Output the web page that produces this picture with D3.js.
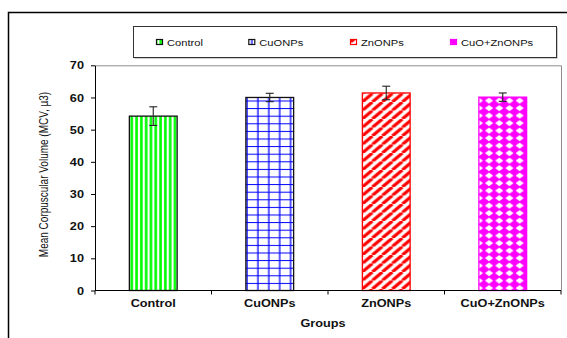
<!DOCTYPE html>
<html>
<head>
<meta charset="utf-8">
<script src="https://cdn.jsdelivr.net/npm/d3@7"></script>
<style>
  html, body { margin: 0; padding: 0; background: #fff; }
  svg { display: block; font-family: "Liberation Sans", Arial, sans-serif; }
</style>
</head>
<body>
<svg id="chart" width="567" height="338"></svg>
<script>
// Mean corpuscular volume per treatment group
const categories = ["Control", "CuONPs", "ZnONPs", "CuO+ZnONPs"];
const meanValues = [54.2, 60.0, 61.4, 60.1];
const errorValues = [2.9, 1.3, 2.1, 1.3];
const yTicks = [0, 10, 20, 30, 40, 50, 60, 70];
const legendLabels = ["Control", "CuONPs", "ZnONPs", "CuO+ZnONPs"];

const colors = ["#00FF00", "#0000FF", "#FF0000", "#FF00FF"];
const borders = ["#111111", "#111111", "#FF0000", "#FF00FF"];
const SX = 1.27; // horizontal text stretch

const svg = d3.select("#chart");
const plot = { left: 95, right: 561, top: 65.3, bottom: 290.5 };

// ---- fill patterns ----
const defs = svg.append("defs");

function vStripes(id, x0) {
  const p = defs.append("pattern").attr("id", id).attr("patternUnits", "userSpaceOnUse")
    .attr("x", x0).attr("y", 0).attr("width", 4.8).attr("height", 10);
  p.append("rect").attr("width", 4.8).attr("height", 10).attr("fill", "#fff");
  p.append("rect").attr("x", 1.1).attr("width", 2.6).attr("height", 10).attr("fill", colors[0]);
}
function grid(id, x0, y0) {
  const w = 10.9, h = 7.6;
  const p = defs.append("pattern").attr("id", id).attr("patternUnits", "userSpaceOnUse")
    .attr("x", x0).attr("y", y0).attr("width", w).attr("height", h);
  p.append("rect").attr("width", w).attr("height", h).attr("fill", "#fff");
  p.append("rect").attr("x", 0.5).attr("width", 1.3).attr("height", h).attr("fill", colors[1]);
  p.append("rect").attr("y", 0).attr("width", w).attr("height", 1).attr("fill", colors[1]);
}
function diag(id, x0) {
  const w = 10, h = 8.5;
  const p = defs.append("pattern").attr("id", id).attr("patternUnits", "userSpaceOnUse")
    .attr("x", x0).attr("y", 0).attr("width", w).attr("height", h);
  p.append("rect").attr("width", w).attr("height", h).attr("fill", "#fff");
  const g = p.append("g").attr("stroke", colors[2]).attr("stroke-width", 3.2);
  g.append("line").attr("x1", 0).attr("y1", h).attr("x2", w).attr("y2", 0);
  g.append("line").attr("x1", -w).attr("y1", h).attr("x2", 0).attr("y2", 0);
  g.append("line").attr("x1", w).attr("y1", h).attr("x2", 2 * w).attr("y2", 0);
}
function diamonds(id, x0, y0) {
  const w = 10.2, h = 7.5;
  const p = defs.append("pattern").attr("id", id).attr("patternUnits", "userSpaceOnUse")
    .attr("x", x0).attr("y", y0).attr("width", w).attr("height", h);
  p.append("rect").attr("width", w).attr("height", h).attr("fill", "#fff");
  const k = 0.6;
  p.append("path").attr("fill", colors[3])
    .attr("d", `M${w / 2},${h / 2 - h * k} L${w / 2 + w * k},${h / 2} L${w / 2},${h / 2 + h * k} L${w / 2 - w * k},${h / 2} Z`);
}

// ---- scales ----
const x = d3.scaleBand().domain(categories).range([plot.left, plot.right]).paddingInner(0.59).paddingOuter(0.295);
const xCat = d3.scaleBand().domain(categories).range([plot.left, plot.right]).padding(0);
const y = d3.scaleLinear().domain([0, 70]).range([plot.bottom, plot.top]);

categories.forEach((c, i) => {
  const bx = x(c);
  if (i === 0) vStripes("pat0", bx);
  if (i === 1) grid("pat1", bx, plot.bottom);
  if (i === 2) diag("pat2", bx);
  if (i === 3) diamonds("pat3", bx, y(meanValues[i]) - 4);
});
// legend swatch patterns
vStripes("lpat0", 0); grid("lpat1", 0, 0); diag("lpat2", 0); diamonds("lpat3", 0, 0);

// ---- outer frame ----
svg.append("rect").attr("x", 8.5).attr("y", 12.5).attr("width", 600).attr("height", 400)
  .attr("fill", "none").attr("stroke", "#000").attr("stroke-width", 1.5);

// ---- plot border (top / right) ----
svg.append("path")
  .attr("d", `M${plot.left},${plot.top + 0.5} H${plot.right + 0.5} V${plot.bottom}`)
  .attr("fill", "none").attr("stroke", "#8c8c8c").attr("stroke-width", 1);

// ---- bars ----
svg.append("g").selectAll("rect").data(categories).join("rect")
  .attr("x", d => x(d))
  .attr("y", (d, i) => y(meanValues[i]))
  .attr("width", x.bandwidth())
  .attr("height", (d, i) => y(0) - y(meanValues[i]))
  .attr("fill", (d, i) => `url(#pat${i})`)
  .attr("stroke", (d, i) => borders[i])
  .attr("stroke-width", 1.3);

// ---- error bars ----
const eb = svg.append("g").attr("stroke", "#222").attr("stroke-width", 1.1).attr("fill", "none");
categories.forEach((c, i) => {
  const cx = x(c) + x.bandwidth() / 2;
  const hi = y(meanValues[i] + errorValues[i]);
  const lo = y(meanValues[i] - errorValues[i]);
  eb.append("line").attr("x1", cx).attr("x2", cx).attr("y1", hi).attr("y2", lo);
  eb.append("line").attr("x1", cx - 4).attr("x2", cx + 4).attr("y1", hi).attr("y2", hi);
  eb.append("line").attr("x1", cx - 4).attr("x2", cx + 4).attr("y1", lo).attr("y2", lo);
});

// ---- y axis ----
const yAxis = svg.append("g").attr("transform", `translate(${plot.left},0)`)
  .call(d3.axisLeft(y).tickValues(yTicks).tickSize(4).tickSizeOuter(0).tickFormat(d3.format("d")));
yAxis.select(".domain").attr("stroke", "#000");
yAxis.selectAll(".tick line").attr("stroke", "#000");
yAxis.selectAll(".tick text")
  .attr("x", null).attr("dy", null)
  .attr("transform", `translate(-11,3.6) scale(${SX},1)`)
  .attr("font-size", 10).attr("font-weight", "bold").attr("fill", "#111")
  .attr("font-family", "Liberation Sans, Arial, sans-serif");

// ---- x axis ----
const xAxisG = svg.append("g").attr("transform", `translate(0,${plot.bottom})`);
xAxisG.append("line").attr("x1", plot.left).attr("x2", plot.right).attr("stroke", "#000");
const bounds = categories.map(c => xCat(c)).concat([plot.right]);
xAxisG.selectAll("line.tk").data(bounds).join("line").attr("class", "tk")
  .attr("x1", d => d).attr("x2", d => d).attr("y1", 0).attr("y2", 4).attr("stroke", "#000");
xAxisG.selectAll("text").data(categories).join("text")
  .attr("transform", d => `translate(${xCat(d) + xCat.bandwidth() / 2},16.8) scale(${SX},1)`)
  .attr("text-anchor", "middle").attr("font-size", 10).attr("font-weight", "bold").attr("fill", "#111")
  .text(d => d);

// ---- axis titles ----
svg.append("text")
  .attr("transform", `translate(323,327.3) scale(${SX},1)`)
  .attr("text-anchor", "middle").attr("font-size", 10).attr("font-weight", "bold").attr("fill", "#111")
  .text("Groups");
svg.append("text")
  .attr("transform", `translate(48,174.5) scale(${SX},1) rotate(-90)`)
  .attr("text-anchor", "middle").attr("font-size", 10).attr("fill", "#111")
  .text("Mean Corpuscular Volume  (MCV, µ3)");

// ---- legend ----
const lg = svg.append("g");
lg.append("rect").attr("x", 134.5).attr("y", 27.5).attr("width", 423).attr("height", 31)
  .attr("fill", "#999");
lg.append("rect").attr("x", 133.5).attr("y", 26.5).attr("width", 423).attr("height", 31)
  .attr("fill", "#fff").attr("stroke", "#333").attr("stroke-width", 1);
const legendX = [156, 248.3, 350, 450];
legendLabels.forEach((t, i) => {
  lg.append("rect").attr("x", legendX[i] + 0.5).attr("y", 39.5).attr("width", 6).attr("height", 5)
    .attr("fill", `url(#lpat${i})`).attr("stroke", borders[i]).attr("stroke-width", 1.2);
  lg.append("text")
    .attr("transform", `translate(${legendX[i] + 11},45.7) scale(1.24,1)`)
    .attr("font-size", 9).attr("fill", "#111").text(t);
});
</script>
</body>
</html>
